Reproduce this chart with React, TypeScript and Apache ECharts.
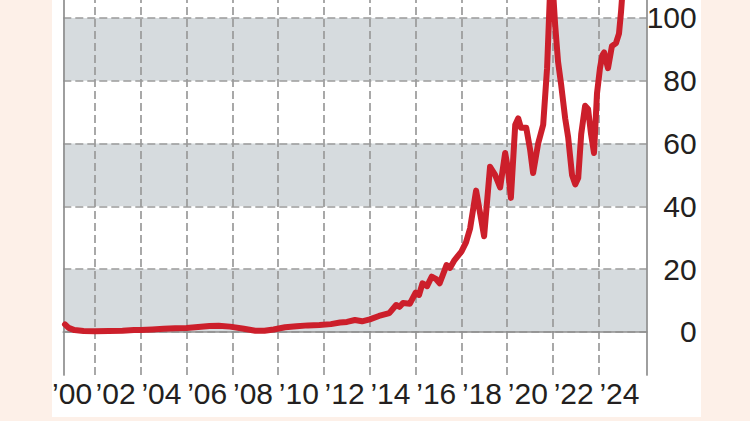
import React, { useEffect, useRef } from "react";
import * as echarts from "echarts";

// decimal years and index values
const years = [
  2000.69, 2000.85, 2001.1, 2001.5, 2002.0, 2002.6, 2003.2, 2003.7, 2004.0, 2004.5,
  2005.0, 2005.5, 2006.0, 2006.5, 2007.0, 2007.4, 2007.9, 2008.5, 2009.0, 2009.4,
  2009.8, 2010.3, 2010.8, 2011.3, 2011.8, 2012.3, 2012.7, 2013.0, 2013.35, 2013.66,
  2014.0, 2014.4, 2014.85, 2015.15, 2015.3, 2015.45, 2015.75, 2016.0, 2016.15, 2016.3,
  2016.5, 2016.7, 2016.9, 2017.05, 2017.35, 2017.5, 2017.7, 2018.0, 2018.2, 2018.38,
  2018.64, 2018.86, 2018.99, 2019.25, 2019.47, 2019.69, 2019.91, 2020.03, 2020.16, 2020.35,
  2020.48, 2020.6, 2020.83, 2021.0, 2021.13, 2021.35, 2021.57, 2021.74, 2021.92, 2022.09,
  2022.22, 2022.35, 2022.53, 2022.66, 2022.83, 2022.97, 2023.1, 2023.23, 2023.4, 2023.53,
  2023.66, 2023.79, 2023.92, 2024.05, 2024.15, 2024.23, 2024.4, 2024.57, 2024.75, 2024.88,
  2024.97, 2025.1,
];
const values = [
  2.4, 1.3, 0.6, 0.3, 0.2, 0.3, 0.4, 0.6, 0.6, 0.8,
  1.0, 1.2, 1.3, 1.6, 1.9, 2.0, 1.7, 1.0, 0.4, 0.4,
  0.8, 1.5, 1.8, 2.1, 2.2, 2.5, 3.0, 3.2, 3.8, 3.4,
  4.0, 5.1, 6.0, 8.6, 8.0, 9.2, 9.0, 12.5, 11.8, 15.5,
  14.6, 17.6, 16.8, 15.5, 21.3, 20.4, 22.9, 25.6, 28.5, 33,
  45, 36, 30.5, 52.6, 50, 46, 57, 52, 42.7, 66,
  68, 65, 65, 58, 50.6, 60, 66, 84, 118, 98,
  86, 79, 68, 62, 50, 47, 49, 63, 72, 71,
  63, 57, 76, 84, 88, 89, 84, 91, 92, 95,
  102, 115,
];

const yTicks = [0, 20, 40, 60, 80, 100];
const shadedBands = [[0, 20], [40, 60], [80, 100]];
const gridYears = [2002, 2004, 2006, 2008, 2010, 2012, 2014, 2016, 2018, 2020, 2022, 2024];
const xLabelYears = [2000, 2002, 2004, 2006, 2008, 2010, 2012, 2014, 2016, 2018, 2020, 2022, 2024];
const xLabelTexts = ["’00", "’02", "’04", "’06", "’08", "’10", "’12", "’14", "’16", "’18", "’20", "’22", "’24"];

const X_MIN = 2000.616;
const X_MAX = 2026.09;
const Y_MIN = -13.7;
const Y_MAX = 105.7;

export default function App() {
  const ref = useRef<HTMLDivElement>(null);
  useEffect(() => {
    if (!ref.current) return;
    const chart = echarts.init(ref.current, undefined, { renderer: "svg" });
    const labelPos = xLabelYears.map((y) => Math.max(y + 0.9, 2001.0));
    const font = "'Liberation Sans', Arial, sans-serif";
    const axisColor = "#8e8e8e";
    chart.setOption({
      animation: false,
      backgroundColor: "transparent",
      grid: { left: 63.3, right: 103.3, top: 0, bottom: 46 },
      xAxis: {
        type: "value",
        min: X_MIN,
        max: X_MAX,
        z: 6,
        axisLine: { show: true, lineStyle: { color: axisColor, width: 1.7 } },
        axisTick: { show: false },
        splitLine: { show: false },
        axisLabel: {
          customValues: labelPos,
          showMinLabel: true,
          showMaxLabel: true,
          hideOverlap: false,
          formatter: (v: number) => {
            let best = 0;
            let d = Infinity;
            labelPos.forEach((p, i) => {
              if (Math.abs(p - v) < d) { d = Math.abs(p - v); best = i; }
            });
            return xLabelTexts[best];
          },
          fontSize: 30,
          fontFamily: font,
          color: "#231f20",
          margin: 3,
          align: "center",
        },
      },
      yAxis: [
        {
          type: "value",
          position: "right",
          min: Y_MIN,
          max: Y_MAX,
          z: 6,
          axisLine: { show: true, lineStyle: { color: axisColor, width: 1.7 } },
          axisTick: { show: false },
          splitLine: { show: false },
          axisLabel: {
            customValues: yTicks,
            showMinLabel: true,
            showMaxLabel: true,
            fontSize: 30,
            fontFamily: font,
            color: "#231f20",
            align: "right",
            margin: 50,
          },
        },
        {
          type: "value",
          position: "left",
          min: Y_MIN,
          max: Y_MAX,
          z: 6,
          axisLine: { show: true, lineStyle: { color: axisColor, width: 1.7 } },
          axisTick: { show: false },
          splitLine: { show: false },
          axisLabel: { show: false },
        },
      ],
      series: [
        {
          type: "line",
          yAxisIndex: 0,
          z: 10,
          showSymbol: false,
          symbol: "none",
          clip: true,
          lineStyle: { color: "#cc1f2b", width: 6, join: "round", cap: "round" },
          data: years.map((y, i) => [y, values[i]]),
          markArea: {
            silent: true,
            z: 1,
            itemStyle: { color: "#d6dbde" },
            data: shadedBands.map(([a, b]) => [{ yAxis: a }, { yAxis: b }]),
          },
          markLine: {
            silent: true,
            z: 2,
            symbol: "none",
            label: { show: false },
            lineStyle: { type: [8, 4], color: "#9a9a9a", width: 1.7 },
            data: [
              ...gridYears.map((y) => ({ xAxis: y })),
              ...yTicks.map((v) => ({ yAxis: v })),
            ],
          },
        },
      ],
    });
    return () => chart.dispose();
  }, []);
  return (
    <div style={{ position: "fixed", left: 0, top: 0, width: 750, height: 421, background: "#fdf0e8" }}>
      <div style={{ position: "absolute", left: 52, top: 0, width: 649, height: 417, background: "#ffffff" }} />
      <div ref={ref} style={{ position: "absolute", left: 0, top: 0, width: 750, height: 421 }} />
    </div>
  );
}
